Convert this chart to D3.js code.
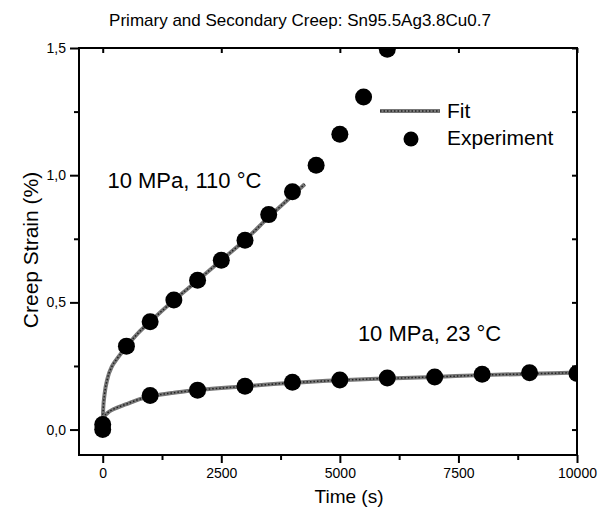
<!DOCTYPE html>
<html>
<head>
<meta charset="utf-8">
<script src="https://cdn.jsdelivr.net/npm/d3@7/dist/d3.min.js"></script>
<style>
  html, body { margin: 0; padding: 0; background: #fff; }
  svg { display: block; font-family: "Liberation Sans", Arial, sans-serif; }
</style>
</head>
<body>
<svg id="chart" width="600" height="514"></svg>
<script>
// ---- data ----
const titleText = "Primary and Secondary Creep: Sn95.5Ag3.8Cu0.7";
const xTicks = [0, 2500, 5000, 7500, 10000];
const xTickLabels = ["0", "2500", "5000", "7500", "10000"];
const xMinor = [1250, 3750, 6250, 8750];
const yTicks = [0, 0.5, 1.0, 1.5];
const yTickLabels = ["0,0", "0,5", "1,0", "1,5"];
const yMinor = [0.25, 0.75, 1.25];

// 10 MPa, 110 °C experiment
const hotTime   = [0, 500, 1000, 1500, 2000, 2500, 3000, 3500, 4000, 4500, 5000, 5500, 6000];
const hotStrain = [0.02, 0.328, 0.424, 0.509, 0.587, 0.666, 0.744, 0.845, 0.935, 1.039, 1.161, 1.307, 1.495];
// 10 MPa, 23 °C experiment
const rtTime    = [0, 1000, 2000, 3000, 4000, 5000, 6000, 7000, 8000, 9000, 10000];
const rtStrain  = [0.0, 0.134, 0.155, 0.170, 0.186, 0.195, 0.203, 0.207, 0.217, 0.223, 0.220];

// fit curves
const hotFitTime   = [0, 10, 40, 100, 200, 300, 500, 750, 1000, 1500, 2000, 2500, 3000, 3500, 4000, 4260];
const hotFitStrain = [0.03, 0.08, 0.14, 0.2, 0.25, 0.278, 0.326, 0.38, 0.424, 0.508, 0.586, 0.666, 0.745, 0.835, 0.92, 0.965];
const rtFitTime    = [0, 30, 100, 250, 500, 750, 1000, 1500, 2000, 3000, 4000, 5000, 6000, 7000, 8000, 9000, 10000];
const rtFitStrain  = [0.03, 0.05, 0.065, 0.082, 0.1, 0.118, 0.13, 0.145, 0.155, 0.17, 0.184, 0.194, 0.201, 0.207, 0.214, 0.219, 0.224];

const annotations = [
  { text: "10 MPa, 110 °C", t: 100, s: 0.95 },
  { text: "10 MPa, 23 °C",  t: 5380, s: 0.35 }
];
const legendLabels = ["Fit", "Experiment"];

// ---- chart ----
const svg = d3.select("#chart");
const x = d3.scaleLinear().domain([-500, 10000]).range([79, 577]);
const y = d3.scaleLinear().domain([-0.1, 1.5]).range([455, 48]);

svg.append("text")
  .attr("x", 300).attr("y", 26)
  .attr("text-anchor", "middle")
  .attr("font-size", 17)
  .text(titleText);

svg.append("defs").append("clipPath").attr("id", "plot")
  .append("rect")
  .attr("x", x.range()[0]).attr("y", y.range()[1])
  .attr("width", x.range()[1] - x.range()[0])
  .attr("height", y.range()[0] - y.range()[1]);

// axes
const xAxis = svg.append("g").attr("transform", `translate(0,${y.range()[0]})`)
  .call(d3.axisBottom(x).tickValues(xTicks).tickSize(8).tickPadding(5)
    .tickFormat((d, i) => xTickLabels[i]));
const yAxis = svg.append("g").attr("transform", `translate(${x.range()[0]},0)`)
  .call(d3.axisLeft(y).tickValues(yTicks).tickSize(9).tickPadding(4)
    .tickFormat((d, i) => yTickLabels[i]));
[xAxis, yAxis].forEach(g => {
  g.select(".domain").remove();
  g.selectAll(".tick line").attr("stroke", "#000").attr("stroke-width", 2);
  g.selectAll(".tick text").attr("font-size", 14).attr("fill", "#000")
    .attr("font-family", "Liberation Sans, Arial, sans-serif");
});
svg.append("g").attr("transform", `translate(0,${y.range()[0]})`)
  .call(d3.axisBottom(x).tickValues(xMinor).tickSize(5).tickFormat(""))
  .call(g => g.select(".domain").remove())
  .selectAll("line").attr("stroke-width", 2);
svg.append("g").attr("transform", `translate(${x.range()[0]},0)`)
  .call(d3.axisLeft(y).tickValues(yMinor).tickSize(5).tickFormat(""))
  .call(g => g.select(".domain").remove())
  .selectAll("line").attr("stroke-width", 2);
// inner ticks on top and right
svg.append("g").attr("transform", `translate(0,${y.range()[1]})`)
  .call(d3.axisBottom(x).tickValues(xTicks).tickSize(5).tickFormat(""))
  .call(g => g.select(".domain").remove())
  .selectAll("line").attr("stroke-width", 2);
svg.append("g").attr("transform", `translate(${x.range()[1]},0)`)
  .call(d3.axisLeft(y).tickValues(yTicks.concat(yMinor)).tickSize(5).tickFormat(""))
  .call(g => g.select(".domain").remove())
  .selectAll("line").attr("stroke-width", 2);

// frame
svg.append("rect")
  .attr("x", x.range()[0]).attr("y", y.range()[1])
  .attr("width", x.range()[1] - x.range()[0])
  .attr("height", y.range()[0] - y.range()[1])
  .attr("fill", "none").attr("stroke", "#000").attr("stroke-width", 2);

// axis titles
svg.append("text")
  .attr("x", 349).attr("y", 503)
  .attr("text-anchor", "middle").attr("font-size", 19)
  .text("Time (s)");
svg.append("text")
  .attr("transform", "translate(38,250) rotate(-90)")
  .attr("text-anchor", "middle").attr("font-size", 21)
  .text("Creep Strain (%)");

const plot = svg.append("g").attr("clip-path", "url(#plot)");
const line = d3.line().x(d => x(d[0])).y(d => y(d[1])).curve(d3.curveMonotoneX);

function drawFit(ts, ss) {
  const pts = ts.map((t, i) => [t, ss[i]]);
  plot.append("path").datum(pts).attr("d", line)
    .attr("fill", "none").attr("stroke", "#777").attr("stroke-width", 4);
  plot.append("path").datum(pts).attr("d", line)
    .attr("fill", "none").attr("stroke", "#222").attr("stroke-width", 1.5)
    .attr("stroke-dasharray", "1.5,2");
}
drawFit(hotFitTime, hotFitStrain);
drawFit(rtFitTime, rtFitStrain);

function drawPoints(ts, ss) {
  plot.append("g").selectAll("circle")
    .data(ts.map((t, i) => [t, ss[i]]))
    .join("circle")
    .attr("cx", d => x(d[0])).attr("cy", d => y(d[1]))
    .attr("r", 8.5).attr("fill", "#000");
}
drawPoints(hotTime, hotStrain);
drawPoints(rtTime, rtStrain);

// annotations
svg.append("g").selectAll("text").data(annotations).join("text")
  .attr("x", d => x(d.t)).attr("y", d => y(d.s))
  .attr("font-size", 22)
  .text(d => d.text);

// legend
const lg = svg.append("g");
lg.append("line").attr("x1", 380).attr("x2", 440).attr("y1", 111).attr("y2", 111)
  .attr("stroke", "#777").attr("stroke-width", 4);
lg.append("line").attr("x1", 380).attr("x2", 440).attr("y1", 111).attr("y2", 111)
  .attr("stroke", "#222").attr("stroke-width", 1.5).attr("stroke-dasharray", "1.5,2");
lg.append("text").attr("x", 447).attr("y", 118).attr("font-size", 21).text(legendLabels[0]);
lg.append("circle").attr("cx", 411).attr("cy", 139).attr("r", 7.5).attr("fill", "#000");
lg.append("text").attr("x", 447).attr("y", 145).attr("font-size", 21).text(legendLabels[1]);
</script>
</body>
</html>
